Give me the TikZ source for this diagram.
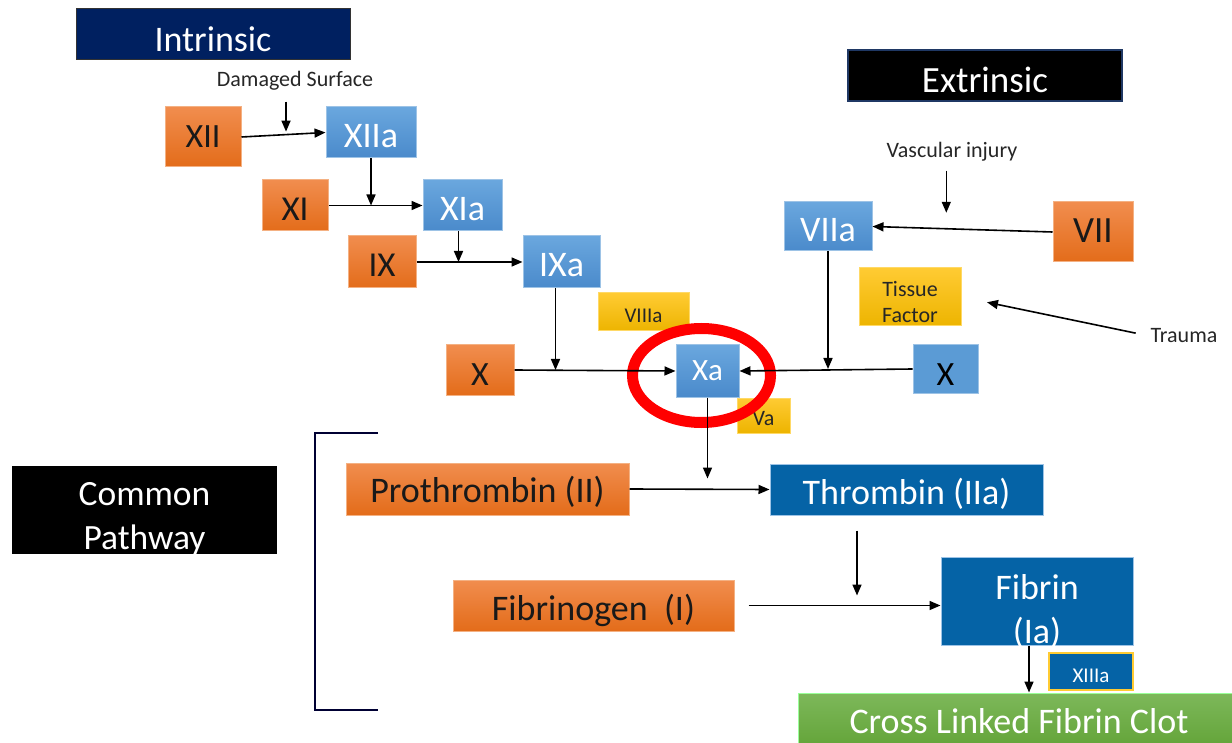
\documentclass[tikz,border=0pt]{standalone}
\usepackage{fontspec}
\setmainfont{Carlito}
\usepackage{xcolor}
\usetikzlibrary{arrows.meta,positioning,calc}

\definecolor{navyhead}{HTML}{002060}
\definecolor{extredge}{HTML}{1F3864}
\definecolor{orTop}{HTML}{F18D4E}
\definecolor{orBot}{HTML}{E36C1A}
\definecolor{orEdge}{HTML}{F4B183}
\definecolor{blTop}{HTML}{6AA7DE}
\definecolor{blBot}{HTML}{4A8ACB}
\definecolor{blFlat}{HTML}{5B9BD5}
\definecolor{blEdge}{HTML}{9DC3E6}
\definecolor{yeTop}{HTML}{FFCB33}
\definecolor{yeBot}{HTML}{EDB400}
\definecolor{yeEdge}{HTML}{FFD966}
\definecolor{dkBlue}{HTML}{0563A6}
\definecolor{grTop}{HTML}{7DB85A}
\definecolor{grBot}{HTML}{62A337}
\definecolor{ringRed}{HTML}{FF0000}

\newcommand{\fsz}[1]{\fontsize{#1}{1.22\dimexpr#1pt\relax}\selectfont}

\begin{document}
\begin{tikzpicture}[
  x=1pt, y=-1pt, >={Triangle[length=11pt,width=9pt]},
  block/.style={rectangle, inner sep=0pt, line width=1pt, align=center, text depth=0pt},
  wh/.style 2 args={minimum width=#1pt, minimum height=#2pt},
  drop/.style={text height=#1pt},
  headbox/.style={block, text=white, font=\fsz{36}, drop=35},
  orangebox/.style={block, top color=orTop, bottom color=orBot, draw=orEdge, text=black!90, font=\fsz{36}, drop=30},
  bluebox/.style={block, top color=blTop, bottom color=blBot, draw=blEdge, text=white, font=\fsz{36}, drop=30},
  yellowbox/.style={block, top color=yeTop, bottom color=yeBot, draw=yeEdge, text=black!85, font=\fsz{21}, drop=22},
  darkbox/.style={block, fill=dkBlue, draw=blEdge, text=white, font=\fsz{36}, drop=29},
  note/.style={inner sep=1pt, text=black!85, font=\fsz{22}},
  arrow/.style={->, line width=1.6pt, black}
]
\useasboundingbox (0,0) rectangle (1232,743);

% intrinsic side
\node[headbox, fill=navyhead, draw=black!80, wh={274}{51}] (intr) at (213,34.5) {Intrinsic};
\node[note] (dmg) at (295,81) {Damaged Surface};
\node[orangebox, wh={76}{60}, font=\fsz{34}, drop=22] (xii) at (203,137) {XII};
\node[bluebox, wh={90}{51}] (xiia) at (371,132.5) {XIIa};
\node[orangebox, wh={66}{51}, font=\fsz{35}] (xi) at (295,205.5) {XI};
\node[bluebox, wh={79}{51}] (xia) at (462.5,205.5) {XIa};
\node[orangebox, wh={68}{52}, font=\fsz{35}] (ix) at (382,262) {IX};
\node[bluebox, wh={77}{52}] (ixa) at (561.5,262) {IXa};
\node[yellowbox, wh={91}{38}] (viiia) at (643.5,312) {VIIIa};
\node[orangebox, wh={68}{50}, font=\fsz{34}] (xl) at (480,370) {X};

% activated X
\node[bluebox, wh={63}{52}, font=\fsz{31}, drop=20] (xa) at (707.5,371) {Xa};
\node[yellowbox, wh={53}{35}, font=\fsz{22}, drop=19] (va) at (763.5,415.5) {Va};

% extrinsic side
\node[headbox, fill=black, draw=extredge, line width=2pt, wh={274}{51}, font=\fsz{37}] (extr) at (985,75.5) {Extrinsic};
\node[note] (vasc) at (952,152) {Vascular injury};
\node[bluebox, wh={88}{49}] (viia) at (828,226.5) {VIIa};
\node[orangebox, wh={80}{60}, font=\fsz{37}, drop=22] (vii) at (1093,232) {VII};
\node[yellowbox, wh={102}{58}, font=\fsz{22}, drop=52] (tf) at (910,297) {Tissue\\Factor};
\node[note] (trauma) at (1184,336) {Trauma};
\node[block, fill=blFlat, draw=blEdge, text=black, font=\fsz{34}, drop=32, wh={65}{48}] (xr) at (945.5,369) {X};

% common pathway
\node[block, fill=black, text=white, font=\fsz{35.5}, drop=78, wh={265}{88}] (common) at (144.5,510) {Common\\Pathway};
\node[orangebox, wh={283}{52}, drop=27] (proth) at (487.5,489) {Prothrombin (II)};
\node[darkbox, wh={273}{51}] (thr) at (906.5,489.5) {Thrombin (IIa)};
\node[orangebox, wh={281}{51}, drop=29] (fibg) at (593.5,605.5) {Fibrinogen~~(I)};
\node[darkbox, wh={192}{88}, drop=84] (fibrin) at (1037,601) {Fibrin\\(Ia)};
\node[block, fill=dkBlue, draw=yeTop, line width=2pt, text=white, font=\fsz{21}, drop=21, wh={84}{37}] (xiiia) at (1091,671.5) {XIIIa};
\node[block, top color=grTop, bottom color=grBot, draw=green!40!white, text=white, font=\fsz{36}, drop=23, wh={442}{57}] (clot) at (1019,721.5) {Cross Linked Fibrin Clot};

% bracket
\draw[line width=2pt, black!80!blue] (378,433) -- (315,433) -- (315,710) -- (378,710);

% highlight ring
\draw[ringRed, line width=11pt] ([xshift=-6pt, yshift=-4.5pt]xa.center) ellipse [x radius=69pt, y radius=47pt];

% cascade arrows
\draw[arrow] (xii.east) -- (xiia.west);
\coordinate (dmgend) at ($(xii.east)!0.53!(xiia.west)$);
\draw[arrow, shorten <=10pt, shorten >=3pt] (dmgend |- dmg.south) -- (dmgend);
\draw[arrow] (xiia.south) -- (xiia.south |- xi.east);
\draw[arrow] (xi.east) -- (xia.west);
\draw[arrow] ([xshift=-4pt]xia.south) -- ([xshift=-4pt]xia.south |- ix.east);
\draw[arrow] (ix.east) -- (ixa.west);
\draw[arrow] ([xshift=-6pt]ixa.south) -- ([xshift=-6pt]ixa.south |- xl.east);
\draw[arrow] (xl.east) -- (xa.west);

\draw[arrow] (vii.west) -- (viia.east);
\coordinate (vascend) at ($(vii.west)!0.59!(viia.east)$);
\draw[arrow, shorten <=8pt, shorten >=16pt] (vascend |- vasc.south) -- (vascend);
\draw[arrow] (xr.west) -- (xa.east);
\draw[arrow] (viia.south) -- (viia.south |- xr.west);
\draw[arrow, shorten <=14pt, shorten >=26pt] (trauma.west) -- (tf.east);

\coordinate (xaend) at ([yshift=-81pt]xa.south);
\draw[arrow] (xa.south) -- (xaend);
\draw[arrow] (proth.east) -- (thr.west);
\coordinate (thrtop) at ([xshift=-49.5pt, yshift=-15pt]thr.south);
\coordinate (thrbot) at ([yshift=-65pt]thrtop);
\draw[arrow] (thrtop) -- (thrbot);
\draw[arrow, shorten <=14pt] (fibg.east) -- (fibg.east -| fibrin.west);
\draw[arrow] ([xshift=-8pt]fibrin.south) -- ([xshift=-8pt]fibrin.south |- clot.north);

\end{tikzpicture}
\end{document}
